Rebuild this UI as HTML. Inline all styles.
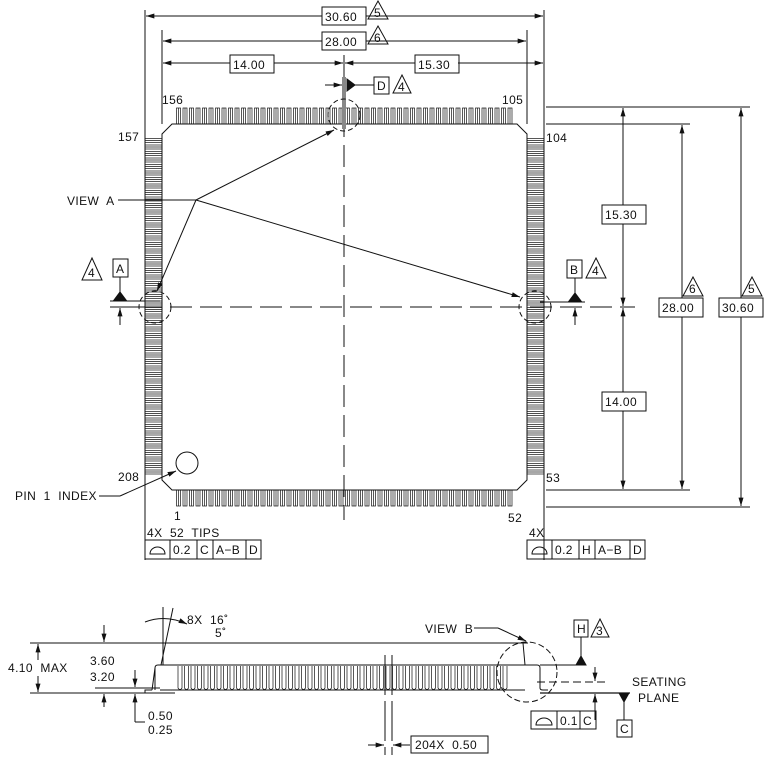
<!DOCTYPE html>
<html><head><meta charset="utf-8"><style>
html,body{margin:0;padding:0;background:#fff;width:774px;height:763px;overflow:hidden}
svg{display:block}
text{font-family:"Liberation Sans",sans-serif;font-size:12px;fill:#111;white-space:pre;letter-spacing:0.4px}
</style></head><body>
<svg id="s" width="774" height="763" viewBox="0 0 774 763" xmlns="http://www.w3.org/2000/svg" stroke="#111" stroke-width="1" fill="none" xml:space="preserve">
<defs>
<marker id="a" viewBox="0 0 10 6" refX="10" refY="3" markerWidth="9" markerHeight="5" orient="auto-start-reverse"><path d="M0,0L10,3L0,6z" fill="#111" stroke="none"/></marker>
</defs>
<polygon points="172,124 517,124 527,134 527,480 517,490 172,490 162,480 162,134"/>
<g id="leads" stroke-width="0.7"></g>
<line x1="344" y1="55" x2="344" y2="520" stroke-dasharray="22,8"/>
<line x1="110" y1="307" x2="635" y2="307" stroke-dasharray="22,8"/>
<line x1="145" y1="10" x2="145" y2="560"/>
<line x1="544" y1="10" x2="544" y2="560"/>
<line x1="162" y1="30" x2="162" y2="124"/>
<line x1="527" y1="30" x2="527" y2="124"/>
<line x1="146" y1="16" x2="322" y2="16" marker-start="url(#a)"/><line x1="366" y1="16" x2="543" y2="16" marker-end="url(#a)"/>
<rect x="322" y="7" width="44" height="18"/><text x="325" y="21" stroke="none">30.60</text>
<polygon points="378,1 388,19 368,19"/><text x="374" y="17" stroke="none" font-size="11">5</text>
<line x1="163" y1="41" x2="322" y2="41" marker-start="url(#a)"/><line x1="366" y1="41" x2="526" y2="41" marker-end="url(#a)"/>
<rect x="322" y="32" width="44" height="18"/><text x="325" y="46" stroke="none">28.00</text>
<polygon points="378,26 388,44 368,44"/><text x="374" y="42" stroke="none" font-size="11">6</text>
<line x1="163" y1="63" x2="230" y2="63" marker-start="url(#a)"/><line x1="274" y1="63" x2="343" y2="63" marker-end="url(#a)"/>
<rect x="230" y="55" width="44" height="18"/><text x="233" y="69" stroke="none">14.00</text>
<line x1="345" y1="63" x2="415" y2="63" marker-start="url(#a)"/><line x1="458" y1="63" x2="543" y2="63" marker-end="url(#a)"/>
<rect x="415" y="55" width="44" height="18"/><text x="418" y="69" stroke="none">15.30</text>
<rect x="342" y="77" width="4" height="52" fill="#888" stroke="none"/>
<line x1="325" y1="85" x2="342" y2="85" marker-end="url(#a)"/>
<polygon points="347,79 355,85 347,91" fill="#111"/>
<line x1="355" y1="85" x2="374" y2="85"/>
<rect x="374" y="77" width="15" height="17"/><text x="377" y="90" stroke="none">D</text>
<polygon points="402,75 411,93 393,93"/><text x="398" y="91" stroke="none" font-size="11">4</text>
<text x="162" y="104" stroke="none">156</text><text x="502" y="104" stroke="none">105</text>
<text x="118" y="141" stroke="none">157</text><text x="546" y="142" stroke="none">104</text>
<text x="118" y="481" stroke="none">208</text><text x="546" y="482" stroke="none">53</text>
<text x="174" y="520" stroke="none">1</text><text x="508" y="522" stroke="none">52</text>
<g stroke-dasharray="5,3"><circle cx="344" cy="115" r="16"/><circle cx="155" cy="307" r="16"/><circle cx="535" cy="307" r="16"/></g>
<text x="67" y="205" stroke="none">VIEW  A</text>
<line x1="118" y1="200" x2="196" y2="200"/>
<line x1="196" y1="200" x2="334" y2="130" marker-end="url(#a)"/>
<line x1="196" y1="200" x2="157" y2="291" marker-end="url(#a)"/>
<line x1="196" y1="200" x2="520" y2="297" marker-end="url(#a)"/>
<polygon points="92,258 102,280 82,280"/><text x="88" y="277" stroke="none" font-size="11">4</text>
<rect x="113" y="259" width="15" height="18"/><text x="116" y="273" stroke="none">A</text>
<line x1="120" y1="277" x2="120" y2="298"/><polygon points="114,300 120,292 126,300" fill="#111"/>
<line x1="110" y1="301" x2="160" y2="301"/><line x1="110" y1="307" x2="160" y2="307"/>
<line x1="120" y1="325" x2="120" y2="308" marker-end="url(#a)"/>
<rect x="567" y="260" width="15" height="18"/><text x="570" y="274" stroke="none">B</text>
<polygon points="596,258 606,278 586,278"/><text x="592" y="275" stroke="none" font-size="11">4</text>
<line x1="575" y1="278" x2="575" y2="299"/><polygon points="569,301 575,293 581,301" fill="#111"/>
<line x1="540" y1="302" x2="585" y2="302"/>
<line x1="575" y1="325" x2="575" y2="308" marker-end="url(#a)"/>
<circle cx="187" cy="463" r="11"/>
<text x="15" y="500" stroke="none">PIN  1  INDEX</text>
<line x1="99" y1="496" x2="120" y2="496"/><line x1="120" y1="496" x2="176" y2="471" marker-end="url(#a)"/>
<text x="147" y="537" stroke="none">4X  52  TIPS</text>
<rect x="145" y="540" width="116" height="19"/>
<line x1="170" y1="540" x2="170" y2="559"/><line x1="197" y1="540" x2="197" y2="559"/><line x1="213" y1="540" x2="213" y2="559"/><line x1="246" y1="540" x2="246" y2="559"/>
<path d="M150,554 H165 A7.5,7 0 0 0 150,554z"/>
<text x="173" y="554" stroke="none">0.2</text><text x="200" y="554" stroke="none">C</text><text x="216" y="554" stroke="none">A−B</text><text x="249" y="554" stroke="none">D</text>
<text x="529" y="537" stroke="none">4X</text>
<rect x="527" y="540" width="118" height="19"/>
<line x1="552" y1="540" x2="552" y2="559"/><line x1="579" y1="540" x2="579" y2="559"/><line x1="595" y1="540" x2="595" y2="559"/><line x1="630" y1="540" x2="630" y2="559"/>
<path d="M532,554 H547 A7.5,7 0 0 0 532,554z"/>
<text x="555" y="554" stroke="none">0.2</text><text x="582" y="554" stroke="none">H</text><text x="598" y="554" stroke="none">A−B</text><text x="633" y="554" stroke="none">D</text>
<line x1="546" y1="107" x2="750" y2="107"/><line x1="546" y1="124" x2="690" y2="124"/>
<line x1="546" y1="490" x2="690" y2="490"/><line x1="546" y1="507" x2="750" y2="507"/>
<line x1="623" y1="108" x2="623" y2="205" marker-start="url(#a)"/><line x1="623" y1="224" x2="623" y2="306" marker-end="url(#a)"/>
<rect x="602" y="205" width="44" height="19"/><text x="605" y="219" stroke="none">15.30</text>
<line x1="623" y1="308" x2="623" y2="392" marker-start="url(#a)"/><line x1="623" y1="411" x2="623" y2="489" marker-end="url(#a)"/>
<rect x="602" y="392" width="44" height="19"/><text x="605" y="406" stroke="none">14.00</text>
<line x1="682" y1="125" x2="682" y2="298" marker-start="url(#a)"/><line x1="682" y1="317" x2="682" y2="489" marker-end="url(#a)"/>
<rect x="659" y="298" width="44" height="19"/><text x="662" y="312" stroke="none">28.00</text>
<polygon points="693,277 703,296 683,296"/><text x="689" y="293" stroke="none" font-size="11">6</text>
<line x1="741" y1="108" x2="741" y2="298" marker-start="url(#a)"/><line x1="741" y1="317" x2="741" y2="506" marker-end="url(#a)"/>
<rect x="719" y="298" width="44" height="19"/><text x="722" y="312" stroke="none">30.60</text>
<polygon points="752,277 762,296 742,296"/><text x="748" y="293" stroke="none" font-size="11">5</text>

<line x1="30" y1="643" x2="528" y2="643"/>
<line x1="30" y1="693" x2="150" y2="693"/>
<line x1="95" y1="688" x2="162" y2="688"/>
<line x1="38" y1="644" x2="38" y2="660" marker-start="url(#a)"/><line x1="38" y1="676" x2="38" y2="692" marker-end="url(#a)"/>
<text x="8" y="672" stroke="none">4.10  MAX</text>
<line x1="104" y1="625" x2="104" y2="642" marker-end="url(#a)"/><line x1="104" y1="707" x2="104" y2="694" marker-end="url(#a)"/>
<text x="90" y="665" stroke="none">3.60</text><text x="90" y="681" stroke="none">3.20</text>
<line x1="135" y1="670" x2="135" y2="687" marker-end="url(#a)"/><line x1="135" y1="722" x2="135" y2="694" marker-end="url(#a)"/>
<line x1="135" y1="722" x2="145" y2="722"/>
<text x="148" y="720" stroke="none">0.50</text><text x="148" y="734" stroke="none">0.25</text>
<path d="M155,690 L155,668 Q155,665 158,665 L537,665 Q540,665 540,668 L540,688 Q540,690 543,690 L548,690" />
<path d="M152,690 L145,690 L145,693 L175,693 M155,668 L152,690"/>
<rect x="160" y="665" width="350" height="25" stroke="none" fill="#fff"/>
<path d="M158,665 L510,665 M160,690 L525,690"/>
<g id="sl" stroke-width="0.7"></g>
<line x1="540" y1="693" x2="630" y2="693" stroke-width="1.3"/>
<line x1="163" y1="607" x2="163" y2="665"/>
<line x1="173" y1="608" x2="161" y2="665"/>
<path d="M145,622 Q165,614 187,624" marker-end="url(#a)"/>
<text x="187" y="624" stroke="none">8X  16˚</text><text x="215" y="637" stroke="none">5˚</text>
<line x1="385" y1="655" x2="385" y2="755" stroke-dasharray="40,6"/><line x1="392" y1="655" x2="392" y2="755" stroke-dasharray="40,6"/>
<line x1="368" y1="745" x2="384" y2="745" marker-end="url(#a)"/><line x1="410" y1="745" x2="393" y2="745" marker-end="url(#a)"/>
<rect x="411" y="736" width="77" height="17"/><text x="415" y="749" stroke="none">204X  0.50</text>
<text x="425" y="633" stroke="none">VIEW  B</text>
<line x1="474" y1="628" x2="498" y2="628"/><line x1="498" y1="628" x2="526" y2="641" marker-end="url(#a)"/>
<circle cx="527" cy="672" r="30" stroke-dasharray="6,3"/>
<line x1="523" y1="643" x2="525" y2="665"/>
<line x1="540" y1="665" x2="585" y2="665"/>
<polygon points="576,665 581,656 586,665" fill="#111"/><line x1="581" y1="637" x2="581" y2="656"/>
<rect x="574" y="620" width="14" height="17"/><text x="577" y="633" stroke="none">H</text>
<polygon points="600,619 609,637 591,637"/><text x="596" y="635" stroke="none" font-size="11">3</text>
<line x1="537" y1="682" x2="605" y2="682" stroke-dasharray="8,4"/>
<line x1="595" y1="667" x2="595" y2="681" marker-end="url(#a)"/><line x1="595" y1="720" x2="595" y2="694" marker-end="url(#a)"/>
<rect x="531" y="711" width="65" height="18"/><line x1="557" y1="711" x2="557" y2="729"/><line x1="580" y1="711" x2="580" y2="729"/>
<path d="M536,725 H552 A8,7 0 0 0 536,725z"/>
<text x="560" y="725" stroke="none">0.1</text><text x="583" y="725" stroke="none">C</text>
<polygon points="619,693 629,693 624,702" fill="#111"/><line x1="624" y1="702" x2="624" y2="720"/>
<rect x="617" y="720" width="15" height="17"/><text x="620" y="733" stroke="none">C</text>
<text x="632" y="686" stroke="none">SEATING</text><text x="638" y="702" stroke="none">PLANE</text>
</svg>
<script>
(function(){
var ns="http://www.w3.org/2000/svg",g=document.getElementById('leads'),s=document.getElementById('sl');
function r(p,x,y,w,h){var e=document.createElementNS(ns,'rect');e.setAttribute('x',x);e.setAttribute('y',y);e.setAttribute('width',w);e.setAttribute('height',h);p.appendChild(e);}
function l(p,x1,y1,x2,y2){var e=document.createElementNS(ns,'line');e.setAttribute('x1',x1);e.setAttribute('y1',y1);e.setAttribute('x2',x2);e.setAttribute('y2',y2);p.appendChild(e);}
for(var i=0;i<52;i++){var x=176.5+i*6.5;
r(g,x,108,4,16);l(g,x+2,108,x+2,124);
r(g,x,490,4,16);l(g,x+2,490,x+2,506);
var y=138.5+i*6.5;
r(g,145,y,17,4);l(g,145,y+2,162,y+2);
r(g,527,y,17,4);l(g,527,y+2,544,y+2);}
for(var j=0;j<51;j++){var x=178+j*6.5;
var p=document.createElementNS(ns,'path');p.setAttribute('d','M'+x+',666 L'+x+',688 Q'+(x+2)+',691 '+(x+4)+',688 L'+(x+4)+',666');s.appendChild(p);}
})();
</script>
</body></html>
